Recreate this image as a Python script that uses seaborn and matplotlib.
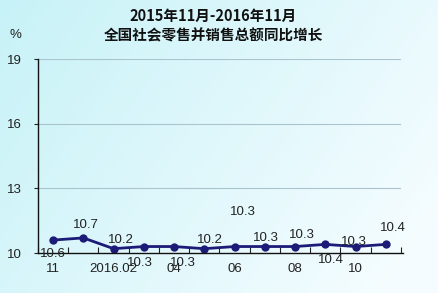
import numpy as np
import pandas as pd
import matplotlib
matplotlib.use("Agg")
import matplotlib.pyplot as plt
import seaborn as sns

# ---- data ----
months = ["2015.11", "2015.12", "2016.02", "2016.03", "2016.04", "2016.05",
          "2016.06", "2016.07", "2016.08", "2016.09", "2016.10", "2016.11"]
values = [10.6, 10.7, 10.2, 10.3, 10.3, 10.2, 10.3, 10.3, 10.3, 10.4, 10.3, 10.4]
tick_labels = ["11", "", "2016.02", "", "04", "", "06", "", "08", "", "10", ""]
yticks = [10, 13, 16, 19]
title = "2015年11月-2016年11月\n全国社会零售并销售总额同比增长"

# label offsets (points) — styling only
label_offsets = [(0, -10), (2, 9), (5, 6), (-3, -12), (6, -12), (4, 6),
                 (6, 25), (1, 6), (5, 8), (4, -11), (-1, 3), (5, 12)]

sns.set_theme(style="white")
plt.rcParams["font.family"] = ["Noto Sans CJK SC", "DejaVu Sans"]
NUMFONT = ["Liberation Sans", "DejaVu Sans"]

W, H = 439, 293
fig = plt.figure(figsize=(W / 100, H / 100), dpi=100)

# gradient background
xs = np.linspace(0, 1, 200)
ys = np.linspace(0, 1, 200)
X, Y = np.meshgrid(xs, ys)
t = np.clip(0.75 * X + 0.35 * Y, 0, 1)
c0 = np.array([0.78, 0.95, 0.97])
c1 = np.array([0.96, 0.99, 1.0])
img = c0[None, None, :] * (1 - t[..., None]) + c1[None, None, :] * t[..., None]
bg = fig.add_axes([0, 0, 1, 1])
bg.imshow(img, aspect="auto", extent=[0, 1, 0, 1])
bg.axis("off")

ax = fig.add_axes([38 / W, 1 - 253 / H, (401 - 38) / W, (253 - 59) / H])
ax.set_facecolor("none")

df = pd.DataFrame({"idx": np.arange(len(values)), "val": values})
sns.lineplot(data=df, x="idx", y="val", ax=ax, color="#1c1c78", linewidth=2,
             marker="o", markersize=6, markeredgewidth=0)

for i, v in enumerate(values):
    dx, dy = label_offsets[i]
    ax.annotate(f"{v:.1f}", (i, v), xytext=(dx, dy), textcoords="offset points",
                ha="center", va="center", fontsize=9.5, color="#222222",
                family=NUMFONT)

ax.set_xlim(-0.5, len(values) - 0.5)
ax.set_ylim(10, 19)
ax.set_yticks(yticks)
ax.set_yticklabels([str(y) for y in yticks], fontsize=9.5, color="#222222",
                   family=NUMFONT)
ax.set_xticks(np.arange(len(values)))
ax.set_xticklabels(tick_labels, fontsize=9.5, color="#222222", family=NUMFONT)
ax.set_xticks(np.arange(len(values) + 1) - 0.5, minor=True)
ax.tick_params(axis="x", which="major", length=0, pad=7)
ax.tick_params(axis="x", which="minor", direction="in", length=4, width=0.8,
               color="#222222", bottom=True)
ax.tick_params(axis="y", which="major", direction="out", length=3, width=0.8,
               color="#222222", left=True, pad=9)
ax.set_xlabel("")
ax.set_ylabel("")

for y in yticks[1:]:
    ax.axhline(y, color="#a9c4cc", linewidth=0.8, zorder=0)

for s in ["top", "right"]:
    ax.spines[s].set_visible(False)
for s in ["left", "bottom"]:
    ax.spines[s].set_color("#111111")
    ax.spines[s].set_linewidth(1.0)
ax.spines["bottom"].set_bounds(-0.5, len(values) - 0.45)

fig.text(213 / W, 1 - 26 / H, title, ha="center", va="center", fontsize=10.5,
         fontweight="bold", color="#111111", linespacing=1.25)
fig.text(15 / W, 1 - 35 / H, "%", ha="center", va="center", fontsize=9.5,
         color="#222222", family=NUMFONT)

fig.savefig("out.png", dpi=100)
